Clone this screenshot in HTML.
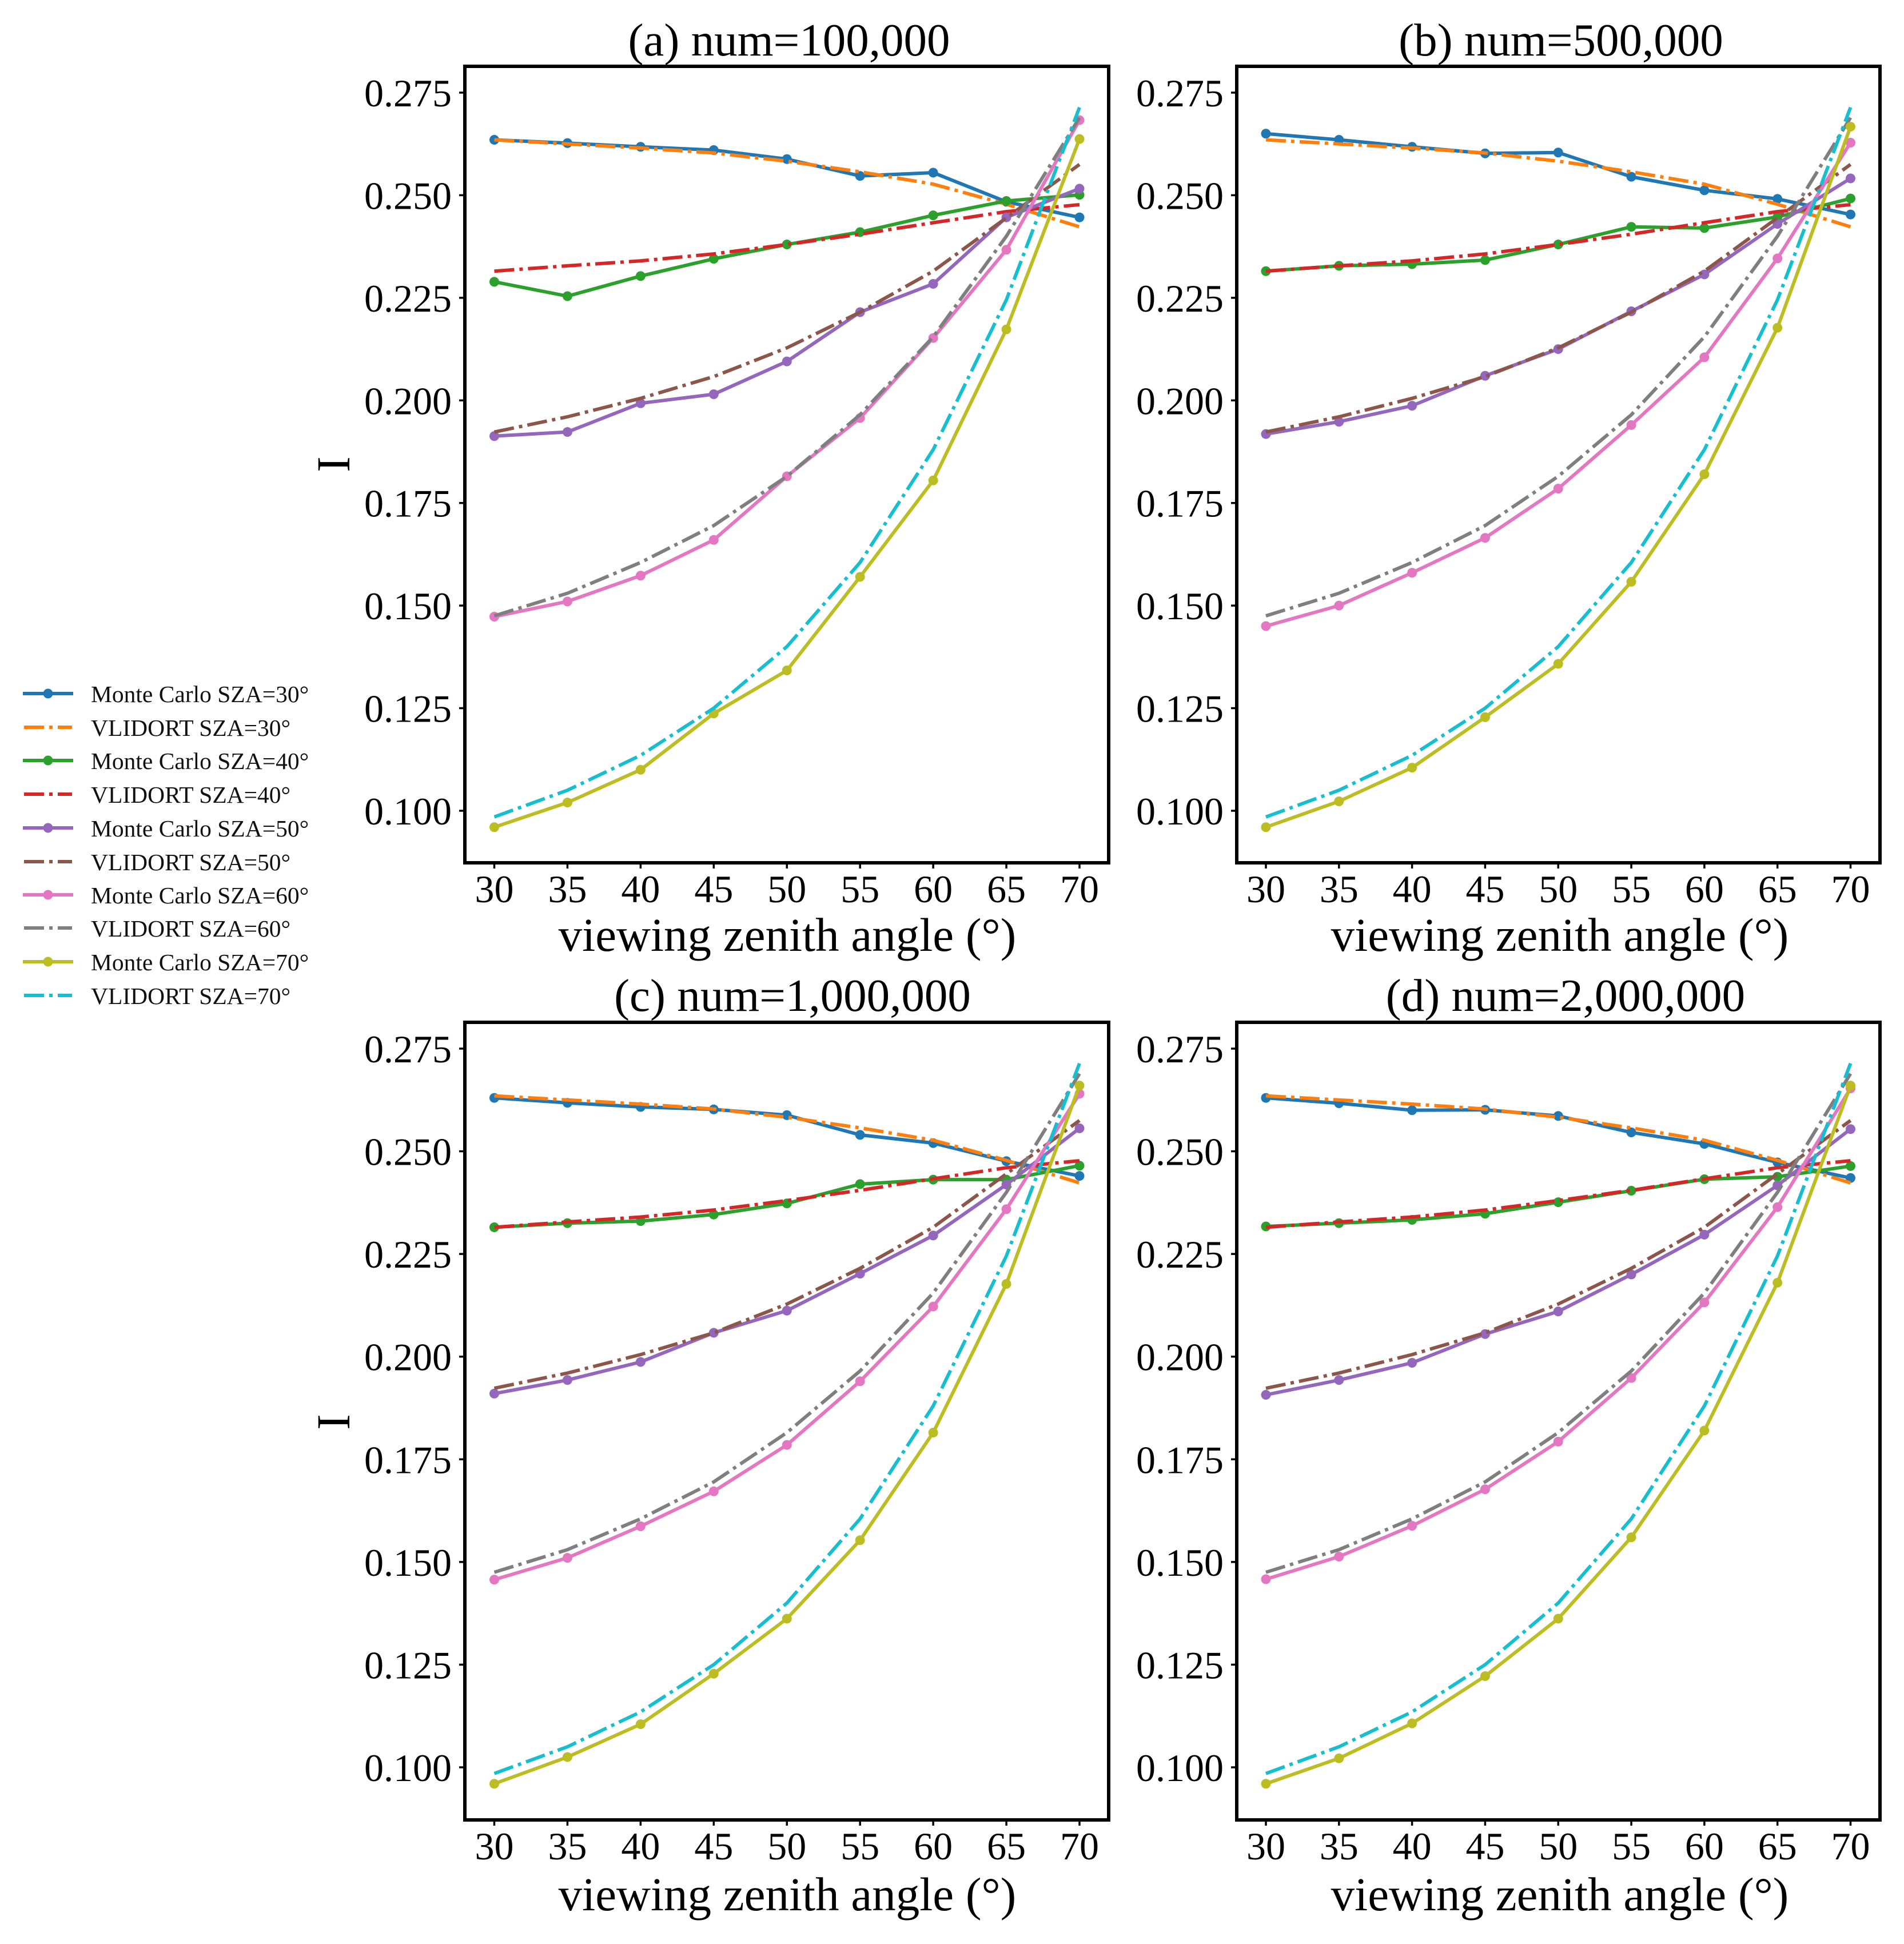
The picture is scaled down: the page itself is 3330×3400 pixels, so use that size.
<!DOCTYPE html>
<html lang="en">
<head>
<meta charset="utf-8">
<title>Monte Carlo vs VLIDORT radiance by viewing zenith angle</title>
<style>
  html, body { margin: 0; padding: 0; background: #ffffff; }
  svg { display: block; font-family: "Liberation Serif", serif; fill: #000; }
  .title { font-size: 81px; text-anchor: middle; }
  .axis-title { font-size: 83px; text-anchor: middle; }
  .tick-label { font-size: 68px; }
  .legend-text { font-size: 41.5px; fill: #111; }
  .frame { fill: none; stroke: #000; stroke-width: 6; }
</style>
</head>
<body>
<svg id="chart" xmlns="http://www.w3.org/2000/svg" width="3330" height="3400" viewBox="0 0 3330 3400">
  <rect x="0" y="0" width="3330" height="3400" fill="#ffffff"></rect>

  <text class="title" x="1380" y="97">(a) num=100,000</text>
  <text class="title" x="2730" y="97">(b) num=500,000</text>
  <text class="title" x="1386" y="1768">(c) num=1,000,000</text>
  <text class="title" x="2738" y="1768">(d) num=2,000,000</text>

  <text class="axis-title" x="1377" y="1663">viewing zenith angle (°)</text>
  <text class="axis-title" x="2728" y="1663">viewing zenith angle (°)</text>
  <text class="axis-title" x="1377" y="3341">viewing zenith angle (°)</text>
  <text class="axis-title" x="2728" y="3341">viewing zenith angle (°)</text>

  <text class="axis-title" transform="translate(611,812) rotate(-90)">I</text>
  <text class="axis-title" transform="translate(611,2487) rotate(-90)">I</text>

  <g id="plots"></g>

  <g>
    <g><line x1="40" x2="128" y1="1213" y2="1213" stroke="#1f77b4" stroke-width="6"></line><circle cx="84" cy="1213" r="8.5" fill="#1f77b4"></circle><text class="legend-text" x="159" y="1228">Monte Carlo SZA=30°</text></g>
    <g><line x1="42" x2="126" y1="1272" y2="1272" stroke="#ff7f0e" stroke-width="6" stroke-dasharray="35 9 6 9"></line><text class="legend-text" x="159" y="1287">VLIDORT SZA=30°</text></g>
    <g><line x1="40" x2="128" y1="1330" y2="1330" stroke="#2ca02c" stroke-width="6"></line><circle cx="84" cy="1330" r="8.5" fill="#2ca02c"></circle><text class="legend-text" x="159" y="1345">Monte Carlo SZA=40°</text></g>
    <g><line x1="42" x2="126" y1="1389" y2="1389" stroke="#d62728" stroke-width="6" stroke-dasharray="35 9 6 9"></line><text class="legend-text" x="159" y="1404">VLIDORT SZA=40°</text></g>
    <g><line x1="40" x2="128" y1="1448" y2="1448" stroke="#9467bd" stroke-width="6"></line><circle cx="84" cy="1448" r="8.5" fill="#9467bd"></circle><text class="legend-text" x="159" y="1463">Monte Carlo SZA=50°</text></g>
    <g><line x1="42" x2="126" y1="1507" y2="1507" stroke="#8c564b" stroke-width="6" stroke-dasharray="35 9 6 9"></line><text class="legend-text" x="159" y="1522">VLIDORT SZA=50°</text></g>
    <g><line x1="40" x2="128" y1="1565" y2="1565" stroke="#e377c2" stroke-width="6"></line><circle cx="84" cy="1565" r="8.5" fill="#e377c2"></circle><text class="legend-text" x="159" y="1580">Monte Carlo SZA=60°</text></g>
    <g><line x1="42" x2="126" y1="1623" y2="1623" stroke="#7f7f7f" stroke-width="6" stroke-dasharray="35 9 6 9"></line><text class="legend-text" x="159" y="1638">VLIDORT SZA=60°</text></g>
    <g><line x1="40" x2="128" y1="1682" y2="1682" stroke="#bcbd22" stroke-width="6"></line><circle cx="84" cy="1682" r="8.5" fill="#bcbd22"></circle><text class="legend-text" x="159" y="1697">Monte Carlo SZA=70°</text></g>
    <g><line x1="42" x2="126" y1="1741" y2="1741" stroke="#17becf" stroke-width="6" stroke-dasharray="35 9 6 9"></line><text class="legend-text" x="159" y="1756">VLIDORT SZA=70°</text></g>
  </g>
</svg>

<script>
const angles = [30, 35, 40, 45, 50, 55, 60, 65, 70];
const yTicks = [0.100, 0.125, 0.150, 0.175, 0.200, 0.225, 0.250, 0.275];
const yTickLabels = ["0.100", "0.125", "0.150", "0.175", "0.200", "0.225", "0.250", "0.275"];
const xTickLabels = ["30", "35", "40", "45", "50", "55", "60", "65", "70"];
const szaNames = ["30", "40", "50", "60", "70"];

const vlidort30 = [0.2635, 0.2625, 0.2615, 0.2603, 0.2583, 0.2557, 0.2527, 0.2478, 0.2423];
const vlidort40 = [0.2315, 0.2328, 0.2340, 0.2357, 0.2380, 0.2405, 0.2433, 0.2460, 0.2477];
const vlidort50 = [0.1923, 0.1960, 0.2005, 0.2058, 0.2128, 0.2215, 0.2315, 0.2445, 0.2575];
const vlidort60 = [0.1475, 0.1530, 0.1605, 0.1695, 0.1815, 0.1965, 0.2155, 0.2400, 0.2689];
const vlidort70 = [0.0985, 0.1050, 0.1135, 0.1250, 0.1400, 0.1605, 0.1880, 0.2245, 0.2714];

const panelA30 = [0.2635, 0.2627, 0.2618, 0.2610, 0.2588, 0.2547, 0.2555, 0.2484, 0.2446];
const panelA40 = [0.2289, 0.2254, 0.2303, 0.2345, 0.2380, 0.2410, 0.2451, 0.2486, 0.2501];
const panelA50 = [0.1913, 0.1923, 0.1993, 0.2015, 0.2095, 0.2215, 0.2284, 0.2446, 0.2516];
const panelA60 = [0.1473, 0.1510, 0.1573, 0.1660, 0.1815, 0.1957, 0.2152, 0.2367, 0.2683];
const panelA70 = [0.0960, 0.1020, 0.1100, 0.1237, 0.1342, 0.1570, 0.1805, 0.2173, 0.2637];

const panelB30 = [0.2650, 0.2635, 0.2618, 0.2602, 0.2604, 0.2545, 0.2512, 0.2491, 0.2453];
const panelB40 = [0.2315, 0.2328, 0.2332, 0.2342, 0.2380, 0.2423, 0.2420, 0.2447, 0.2492];
const panelB50 = [0.1918, 0.1948, 0.1987, 0.2060, 0.2125, 0.2217, 0.2307, 0.2430, 0.2541];
const panelB60 = [0.1450, 0.1500, 0.1580, 0.1665, 0.1785, 0.1940, 0.2105, 0.2346, 0.2628];
const panelB70 = [0.0960, 0.1023, 0.1105, 0.1228, 0.1358, 0.1558, 0.1820, 0.2177, 0.2667];

const panelC30 = [0.2630, 0.2618, 0.2608, 0.2602, 0.2588, 0.2540, 0.2520, 0.2476, 0.2440];
const panelC40 = [0.2315, 0.2325, 0.2330, 0.2346, 0.2373, 0.2420, 0.2431, 0.2431, 0.2465];
const panelC50 = [0.1910, 0.1943, 0.1987, 0.2058, 0.2112, 0.2202, 0.2295, 0.2419, 0.2556];
const panelC60 = [0.1457, 0.1510, 0.1587, 0.1672, 0.1785, 0.1940, 0.2122, 0.2359, 0.2640];
const panelC70 = [0.0960, 0.1025, 0.1105, 0.1228, 0.1362, 0.1553, 0.1815, 0.2177, 0.2660];

const panelD30 = [0.2630, 0.2617, 0.2600, 0.2601, 0.2586, 0.2546, 0.2518, 0.2473, 0.2435];
const panelD40 = [0.2317, 0.2325, 0.2333, 0.2348, 0.2376, 0.2404, 0.2432, 0.2438, 0.2464];
const panelD50 = [0.1907, 0.1943, 0.1985, 0.2055, 0.2110, 0.2200, 0.2297, 0.2417, 0.2554];
const panelD60 = [0.1458, 0.1513, 0.1588, 0.1677, 0.1793, 0.1948, 0.2132, 0.2364, 0.2653];
const panelD70 = [0.0960, 0.1022, 0.1107, 0.1222, 0.1362, 0.1560, 0.1820, 0.2180, 0.2660];

const mcPanels = [
  [panelA30, panelA40, panelA50, panelA60, panelA70],
  [panelB30, panelB40, panelB50, panelB60, panelB70],
  [panelC30, panelC40, panelC50, panelC60, panelC70],
  [panelD30, panelD40, panelD50, panelD60, panelD70]
];
const vlidortSeries = [vlidort30, vlidort40, vlidort50, vlidort60, vlidort70];
const panelIds = ["a", "b", "c", "d"];

const mcColors = ["#1f77b4", "#2ca02c", "#9467bd", "#e377c2", "#bcbd22"];
const vlColors = ["#ff7f0e", "#d62728", "#8c564b", "#7f7f7f", "#17becf"];

const SVG_NS = "http://www.w3.org/2000/svg";
const plots = document.getElementById("plots");

function xScale(col, angle) {
  const x30 = col === 0 ? 864.5 : 2214;
  const x70 = col === 0 ? 1888 : 3236.5;
  return x30 + (angle - 30) / 40 * (x70 - x30);
}
function yScale(row, value) {
  const y275 = row === 0 ? 162 : 1834;
  const y100 = row === 0 ? 1418 : 3091;
  return y100 + (value - 0.1) / 0.175 * (y275 - y100);
}
function make(tag, attrs, parent) {
  const el = document.createElementNS(SVG_NS, tag);
  for (const k in attrs) el.setAttribute(k, attrs[k]);
  parent.appendChild(el);
  return el;
}
function pointsFor(col, row, values) {
  return values.map(function (v, i) {
    return xScale(col, angles[i]).toFixed(2) + "," + yScale(row, v).toFixed(2);
  }).join(" ");
}

panelIds.forEach(function (id, p) {
  const col = p % 2;
  const row = p < 2 ? 0 : 1;
  const left = col === 0 ? 813 : 2163;
  const right = col === 0 ? 1939 : 3288;
  const top = row === 0 ? 116 : 1788;
  const bottom = row === 0 ? 1509 : 3183;

  const panel = make("g", {}, plots);
  
  

  szaNames.forEach(function (sza, s) {
    const mcLine = make("polyline", {
      points: pointsFor(col, row, mcPanels[p][s]),
      fill: "none",
      stroke: mcColors[s],
      "stroke-width": 6,
      "stroke-linejoin": "round"
    }, panel);
    
    

    mcPanels[p][s].forEach(function (v, i) {
      const dot = make("circle", {
        cx: xScale(col, angles[i]).toFixed(2),
        cy: yScale(row, v).toFixed(2),
        r: 8.5,
        fill: mcColors[s]
      }, panel);
      
      
    });

    const vlLine = make("polyline", {
      points: pointsFor(col, row, vlidortSeries[s]),
      fill: "none",
      stroke: vlColors[s],
      "stroke-width": 6,
      "stroke-dasharray": "35 9 6 9"
    }, panel);
    
    
  });

  const frame = make("rect", {
    class: "frame",
    x: left,
    y: top,
    width: right - left,
    height: bottom - top
  }, panel);
  
  

  yTicks.forEach(function (v, i) {
    const y = yScale(row, v);
    const mark = make("line", {
      x1: left - 10, x2: left, y1: y, y2: y,
      stroke: "#000", "stroke-width": 3.5
    }, panel);
    
    

    const label = make("text", {
      class: "tick-label",
      x: left - 23,
      y: y + 24,
      "text-anchor": "end"
    }, panel);
    label.textContent = yTickLabels[i];
    
    
  });

  angles.forEach(function (a, i) {
    const x = xScale(col, a);
    const mark = make("line", {
      x1: x, x2: x, y1: bottom, y2: bottom + 10,
      stroke: "#000", "stroke-width": 3.5
    }, panel);
    
    

    const label = make("text", {
      class: "tick-label",
      x: x,
      y: bottom + 69,
      "text-anchor": "middle"
    }, panel);
    label.textContent = xTickLabels[i];
    
    
  });
});
</script>
</body>
</html>
